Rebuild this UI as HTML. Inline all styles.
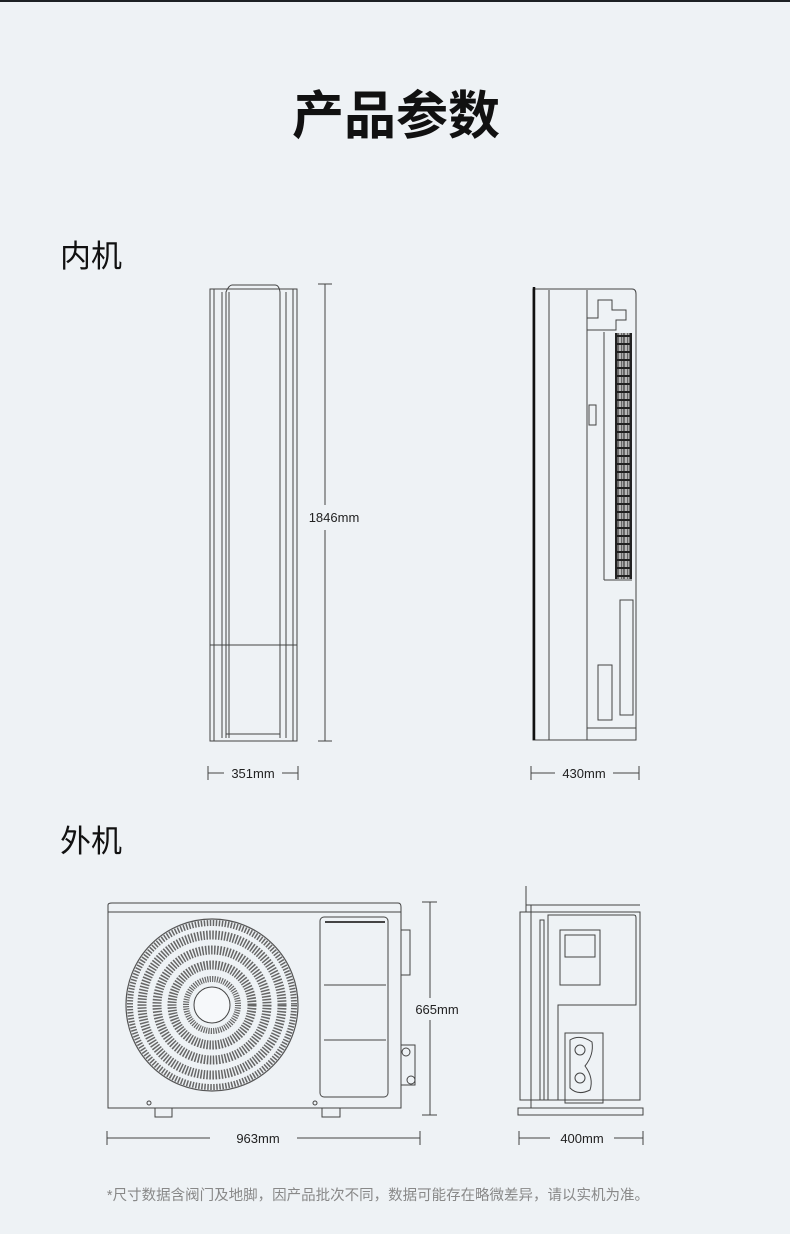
<!DOCTYPE html>
<html><head><meta charset="utf-8"><style>
html,body{margin:0;padding:0}
body{width:790px;height:1234px;background:#eef2f5;position:relative;overflow:hidden;font-family:"Liberation Sans","Noto Sans CJK SC",sans-serif}
</style></head><body>
<div style="position:absolute;left:0;top:0;width:790px;height:2px;background:#1d2124"></div>
<svg width="790" height="1234" style="position:absolute;left:0;top:0" font-family="Liberation Sans, Noto Sans CJK SC, sans-serif">
<defs><pattern id="grille" width="6" height="8" patternUnits="userSpaceOnUse"><rect x="0.5" y="1" width="2.5" height="6" fill="#ddd"/><rect x="3.5" y="1" width="2" height="6" fill="#ccc"/></pattern></defs>
<text x="396" y="134" text-anchor="middle" font-size="52" font-weight="bold" fill="#111">产品参数</text>
<text x="60" y="267" font-size="31" fill="#111">内机</text>
<text x="60" y="852" font-size="31" fill="#111">外机</text>

<g fill="none" stroke="#444" stroke-width="1">
<rect x="210" y="289" width="87" height="452"/>
<rect x="214" y="289" width="79" height="452"/>
<line x1="222" y1="292" x2="222" y2="738"/><line x1="286" y1="292" x2="286" y2="738"/>
<path d="M226 738 V292 Q229 285 232 285 H275 Q279 285 280 292 V738"/>
<line x1="229" y1="292" x2="229" y2="738"/><line x1="280" y1="292" x2="280" y2="738"/>
<line x1="210" y1="645" x2="297" y2="645"/>
<line x1="226" y1="734" x2="280" y2="734"/>
<line x1="325" y1="284" x2="325" y2="505"/><line x1="325" y1="530" x2="325" y2="741"/><line x1="318" y1="284" x2="332" y2="284"/><line x1="318" y1="741" x2="332" y2="741"/>
<line x1="208" y1="766" x2="208" y2="780"/><line x1="298" y1="766" x2="298" y2="780"/>
<line x1="208" y1="773" x2="224" y2="773"/><line x1="282" y1="773" x2="298" y2="773"/>
<path d="M533 289 H632 Q636 289 636 294 V740 H533 Z"/>
<line x1="549" y1="290" x2="549" y2="740"/>
<line x1="587" y1="290" x2="587" y2="740"/>
<path d="M587 318 H598 V300 H612 V310 H626 V320 H616 V330 H587"/>
<line x1="604" y1="332" x2="604" y2="580"/><line x1="604" y1="580" x2="632" y2="580"/>
<rect x="589" y="405" width="7" height="20"/>
<rect x="620" y="600" width="13" height="115"/>
<rect x="598" y="665" width="14" height="55"/>
<line x1="587" y1="728" x2="636" y2="728"/>
<line x1="531" y1="766" x2="531" y2="780"/><line x1="639" y1="766" x2="639" y2="780"/>
<line x1="531" y1="773" x2="555" y2="773"/><line x1="613" y1="773" x2="639" y2="773"/>
</g>
<line x1="534" y1="287" x2="534" y2="740" stroke="#111" stroke-width="2.5"/>
<rect x="615" y="333" width="17" height="246" fill="#222"/>
<rect x="617" y="333" width="13" height="246" fill="url(#grille)" opacity="0.8"/>

<text x="334" y="522" text-anchor="middle" font-size="13" fill="#222">1846mm</text>
<text x="253" y="778" text-anchor="middle" font-size="13" fill="#222">351mm</text>
<text x="584" y="778" text-anchor="middle" font-size="13" fill="#222">430mm</text>

<g fill="none" stroke="#444" stroke-width="1">
<path d="M108 905 Q108 903 112 903 H398 Q401 903 401 907 V1108 H108 Z"/>
<line x1="108" y1="912" x2="401" y2="912"/>
<rect x="320" y="917" width="68" height="180" rx="4"/>
<line x1="324" y1="985" x2="386" y2="985"/><line x1="324" y1="1040" x2="386" y2="1040"/>
<line x1="325" y1="922" x2="385" y2="922" stroke-width="2"/>
<path d="M401 930 H410 V975 H401"/>
<path d="M401 1045 H415 V1085 H401"/>
<circle cx="406" cy="1052" r="4"/><circle cx="411" cy="1080" r="4"/>
<path d="M155 1108 V1117 H172 V1108"/><path d="M322 1108 V1117 H340 V1108"/>
<circle cx="149" cy="1103" r="2"/><circle cx="315" cy="1103" r="2"/>
</g>
<g fill="none" stroke="#555">
<circle cx="212" cy="1005" r="86" stroke-width="1.2"/>
<circle cx="212" cy="1005" r="82" stroke-width="6" stroke-dasharray="1.5 1.5" stroke="#666"/>
<circle cx="212" cy="1005" r="70" stroke-width="9" stroke-dasharray="1.5 1.5" stroke="#666"/>
<circle cx="212" cy="1005" r="55" stroke-width="9" stroke-dasharray="1.5 1.5" stroke="#666"/>
<circle cx="212" cy="1005" r="40" stroke-width="9" stroke-dasharray="1.5 1.4" stroke="#666"/>
<circle cx="212" cy="1005" r="26" stroke-width="6" stroke-dasharray="1.2 1.2" stroke="#666"/>
<circle cx="212" cy="1005" r="18" fill="#f6f8fa" stroke="#444"/>
</g>
<g fill="none" stroke="#444" stroke-width="1">
<path d="M526 886 V912"/>
<path d="M520 912 H640 V1100 H520 Z"/>
<line x1="531" y1="905" x2="531" y2="1108"/>
<line x1="526" y1="905" x2="640" y2="905"/>
<path d="M548 915 H634 Q636 915 636 918 V1005 H558 V1100 H548 Z"/>
<rect x="540" y="920" width="4" height="180"/>
<rect x="560" y="930" width="40" height="55"/>
<rect x="565" y="935" width="30" height="22"/>
<rect x="565" y="1033" width="38" height="70"/>
<path d="M570 1040 Q580 1034 592 1042 Q594 1055 585 1066 Q594 1078 590 1090 Q578 1096 570 1088 Z"/>
<circle cx="580" cy="1050" r="5"/><circle cx="580" cy="1078" r="5"/>
<path d="M518 1108 H643 V1115 H518 Z"/>
</g>
<g stroke="#444" stroke-width="1">
<line x1="430" y1="902" x2="430" y2="998"/><line x1="430" y1="1020" x2="430" y2="1115"/><line x1="422" y1="902" x2="437" y2="902"/><line x1="422" y1="1115" x2="437" y2="1115"/>
<line x1="107" y1="1131" x2="107" y2="1145"/><line x1="420" y1="1131" x2="420" y2="1145"/>
<line x1="107" y1="1138" x2="210" y2="1138"/><line x1="297" y1="1138" x2="420" y2="1138"/>
<line x1="519" y1="1131" x2="519" y2="1145"/><line x1="643" y1="1131" x2="643" y2="1145"/>
<line x1="519" y1="1138" x2="550" y2="1138"/><line x1="614" y1="1138" x2="643" y2="1138"/>
</g>
<text x="437" y="1014" text-anchor="middle" font-size="13" fill="#222">665mm</text>
<text x="258" y="1143" text-anchor="middle" font-size="13" fill="#222">963mm</text>
<text x="582" y="1143" text-anchor="middle" font-size="13" fill="#222">400mm</text>

<text x="378" y="1200" text-anchor="middle" font-size="14.5" fill="#888">*尺寸数据含阀门及地脚，因产品批次不同，数据可能存在略微差异，请以实机为准。</text>
</svg>
</body></html>
